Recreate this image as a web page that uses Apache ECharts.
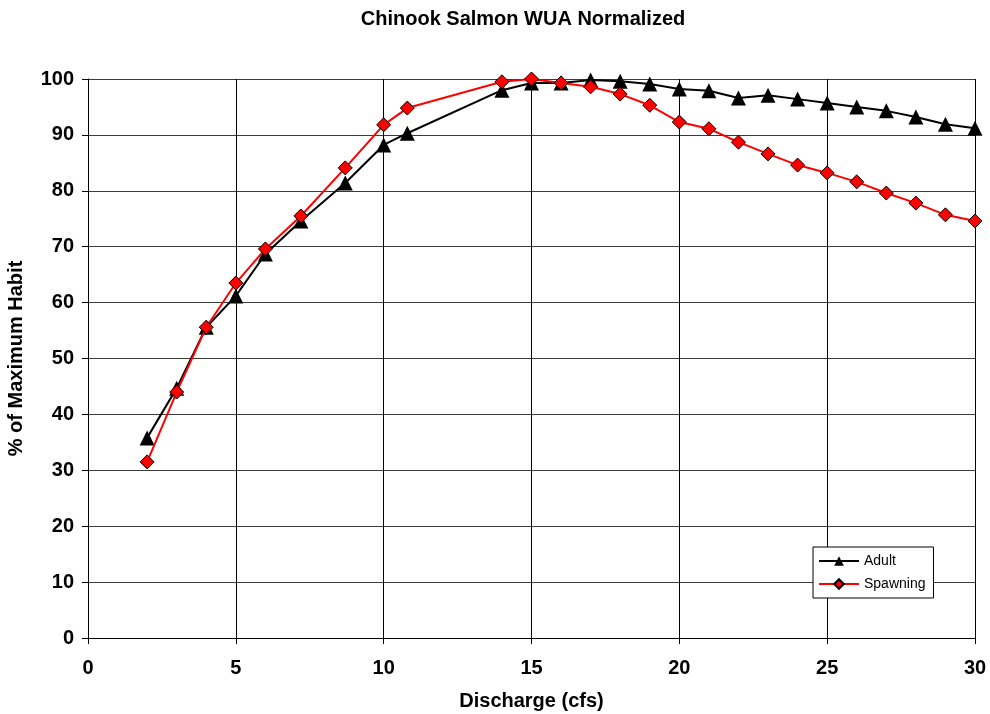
<!DOCTYPE html>
<html>
<head>
<meta charset="utf-8">
<script src="https://cdn.jsdelivr.net/npm/echarts@6/dist/echarts.min.js"></script>
<style>html,body{margin:0;padding:0;background:#fff}#c{width:990px;height:714px}</style>
</head>
<body>
<div id="c"></div>
<script>
const discharge = [2, 3, 4, 5, 6, 7.2, 8.7, 10, 10.8, 14, 15, 16, 17, 18, 19, 20, 21, 22, 23, 24, 25, 26, 27, 28, 29, 30];
const adult = [35.8, 44.7, 55.6, 61.2, 68.7, 74.6, 81.4, 88.2, 90.3, 98.0, 99.3, 99.3, 99.8, 99.6, 99.1, 98.2, 97.9, 96.6, 97.1, 96.4, 95.7, 95.0, 94.3, 93.2, 91.9, 91.2];
const spawning = [31.5, 44.0, 55.6, 63.5, 69.6, 75.5, 84.1, 91.8, 94.8, 99.5, 100, 99.3, 98.6, 97.3, 95.3, 92.3, 91.1, 88.7, 86.6, 84.6, 83.2, 81.6, 79.6, 77.8, 75.7, 74.6];
const xTicks = [0, 5, 10, 15, 20, 25, 30];
const yTicks = [0, 10, 20, 30, 40, 50, 60, 70, 80, 90, 100];

const chart = echarts.init(document.getElementById('c'));
const font = 'Liberation Sans, Arial, sans-serif';
chart.setOption({
  animation: false,
  backgroundColor: '#fff',
  title: {
    text: 'Chinook Salmon WUA Normalized',
    left: 518, top: 4, textAlign: 'center',
    textStyle: {fontFamily: font, fontSize: 20, fontWeight: 'bold', color: '#000'}
  },
  grid: {left: 88, right: 15, top: 79, bottom: 76, outerBoundsMode: 'none', containLabel: false},
  legend: {
    left: 813, top: 547, orient: 'vertical',
    backgroundColor: '#fff', borderColor: '#000', borderWidth: 1,
    padding: [7, 8, 7, 5], itemGap: 9, itemWidth: 40, itemHeight: 12,
    textStyle: {fontFamily: font, fontSize: 14, color: '#000'},
    data: ['Adult', 'Spawning']
  },
  xAxis: {
    type: 'value', min: 0, max: 30, interval: 5,
    name: 'Discharge (cfs)', nameLocation: 'middle', nameGap: 53,
    nameTextStyle: {fontFamily: font, fontSize: 20, fontWeight: 'bold', color: '#000'},
    axisLine: {lineStyle: {color: '#000', width: 1}},
    axisTick: {show: true, inside: false, length: 6, lineStyle: {color: '#000'}},
    axisLabel: {fontFamily: font, fontSize: 20, fontWeight: 'bold', color: '#000', margin: 20,
      customValues: xTicks},
    splitLine: {show: true, lineStyle: {color: '#000', width: 1}}
  },
  yAxis: {
    type: 'value', min: 0, max: 100, interval: 10,
    name: '% of Maximum Habitat', nameLocation: 'middle', nameGap: 62,
    nameTruncate: {maxWidth: 200, ellipsis: ''},
    nameTextStyle: {fontFamily: font, fontSize: 20, fontWeight: 'bold', color: '#000'},
    axisLine: {show: true, lineStyle: {color: '#000', width: 1}},
    axisTick: {show: true, inside: false, length: 6, lineStyle: {color: '#000'}},
    axisLabel: {fontFamily: font, fontSize: 20, fontWeight: 'bold', color: '#000', margin: 14,
      customValues: yTicks},
    splitLine: {show: true, lineStyle: {color: '#3a3a3a', width: 1}}
  },
  series: [
    {
      name: 'Adult', type: 'line',
      data: discharge.map((x, i) => [x, adult[i]]),
      symbol: 'triangle', symbolSize: 15,
      lineStyle: {color: '#000', width: 2},
      itemStyle: {color: '#000', borderColor: '#000', borderWidth: 0},
      z: 3
    },
    {
      name: 'Spawning', type: 'line',
      data: discharge.map((x, i) => [x, spawning[i]]),
      symbol: 'diamond', symbolSize: 14,
      lineStyle: {color: '#ff0000', width: 2},
      itemStyle: {color: '#ff0000', borderColor: '#000', borderWidth: 1},
      z: 4
    }
  ]
});
</script>
</body>
</html>
